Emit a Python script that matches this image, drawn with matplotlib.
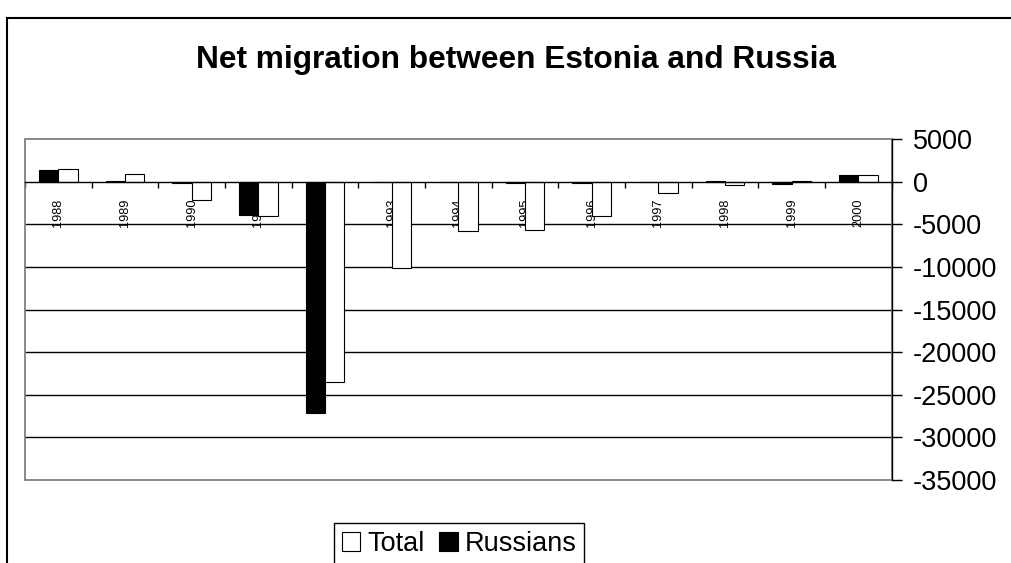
import matplotlib
matplotlib.use("Agg")
import matplotlib.pyplot as plt
from matplotlib.patches import Rectangle, Patch
import numpy as np

plt.rcParams['font.family'] = ['Liberation Sans', 'DejaVu Sans']

years = ["1988", "1989", "1990", "1991", "1992", "1993", "1994",
         "1995", "1996", "1997", "1998", "1999", "2000"]
total = [1450, 940, -2100, -4000, -23500, -10150, -5780,
         -5670, -4060, -1340, -400, 100, 750]
russians = [1400, 120, -200, -3900, -27100, -50, -30,
            -200, -200, -30, 120, -250, 750]
y_ticks = [5000, 0, -5000, -10000, -15000, -20000, -25000, -30000, -35000]

fig = plt.figure(figsize=(10.11, 5.63), dpi=100)
ax = fig.add_axes([25/1011, 1 - 480/563, (891.5 - 25)/1011, (480 - 139)/563])

x = np.arange(len(years))
w = 0.29
ax.bar(x - w/2, russians, w, color="black", edgecolor="black", linewidth=0.8, zorder=2)
ax.bar(x + w/2, total, w, color="white", edgecolor="black", linewidth=0.8, zorder=2)

ax.set_xlim(-0.5, len(years) - 0.5)
ax.set_ylim(-35000, 5000)

# horizontal grid lines, black, inside the plot only
for t in y_ticks:
    if -35000 < t < 0:
        ax.axhline(t, color="black", linewidth=1.0, zorder=1)

# gray plot-area border
ax.add_patch(Rectangle((0, 0), 1, 1, transform=ax.transAxes, fill=False,
                       edgecolor="#808080", linewidth=1.3, zorder=3, clip_on=False))

for s in ["top", "left"]:
    ax.spines[s].set_visible(False)
ax.spines["bottom"].set_position(("data", 0))
ax.spines["bottom"].set_color("black")
ax.spines["bottom"].set_linewidth(1.0)
ax.spines["bottom"].set_zorder(4)
ax.spines["right"].set_color("black")
ax.spines["right"].set_linewidth(1.0)
ax.spines["right"].set_zorder(4)

# x ticks at category boundaries, labels at centers
ax.set_xticks(np.arange(-0.5, len(years), 1.0))
ax.set_xticklabels([])
ax.tick_params(axis="x", which="major", direction="out", length=4.5, width=1, color="black")
ax.set_xticks(x, minor=True)
ax.set_xticklabels(years, minor=True, rotation=90, fontsize=9.2)
ax.tick_params(axis="x", which="minor", length=0, pad=12.5)

ax.yaxis.tick_right()
ax.set_yticks(y_ticks)
ax.set_yticklabels([str(t) for t in y_ticks], fontsize=19.5)
ax.tick_params(axis="y", direction="out", length=7.5, width=1, pad=8, color="black")
ax.tick_params(axis="y", which="minor", length=0)

fig.text(516/1011, 1 - 68/563, "Net migration between Estonia and Russia",
         ha="center", va="baseline", fontsize=22.8, fontweight="bold")

handles = [Patch(facecolor="white", edgecolor="black", linewidth=0.8, label="Total"),
           Patch(facecolor="black", edgecolor="black", linewidth=0.8, label="Russians")]
leg = fig.legend(handles=handles, loc="upper center", bbox_to_anchor=(459/1011, 1 - 523/563),
                 ncol=2, fontsize=19.5, frameon=True, fancybox=False, shadow=False,
                 handlelength=0.68, handleheight=0.68, handletextpad=0.25,
                 columnspacing=0.55, borderpad=0.3, borderaxespad=0)
leg.get_frame().set_edgecolor("black")
leg.get_frame().set_linewidth(1.0)
leg.get_frame().set_alpha(1)

# outer chart frame (runs off the right and bottom edges)
fig.patches.append(Rectangle((7/1011, -0.2), 1.2, 1 - 18/563 + 0.2,
                             transform=fig.transFigure, fill=False,
                             edgecolor="black", linewidth=1.5, clip_on=False))

fig.savefig("out.png", dpi=100)
